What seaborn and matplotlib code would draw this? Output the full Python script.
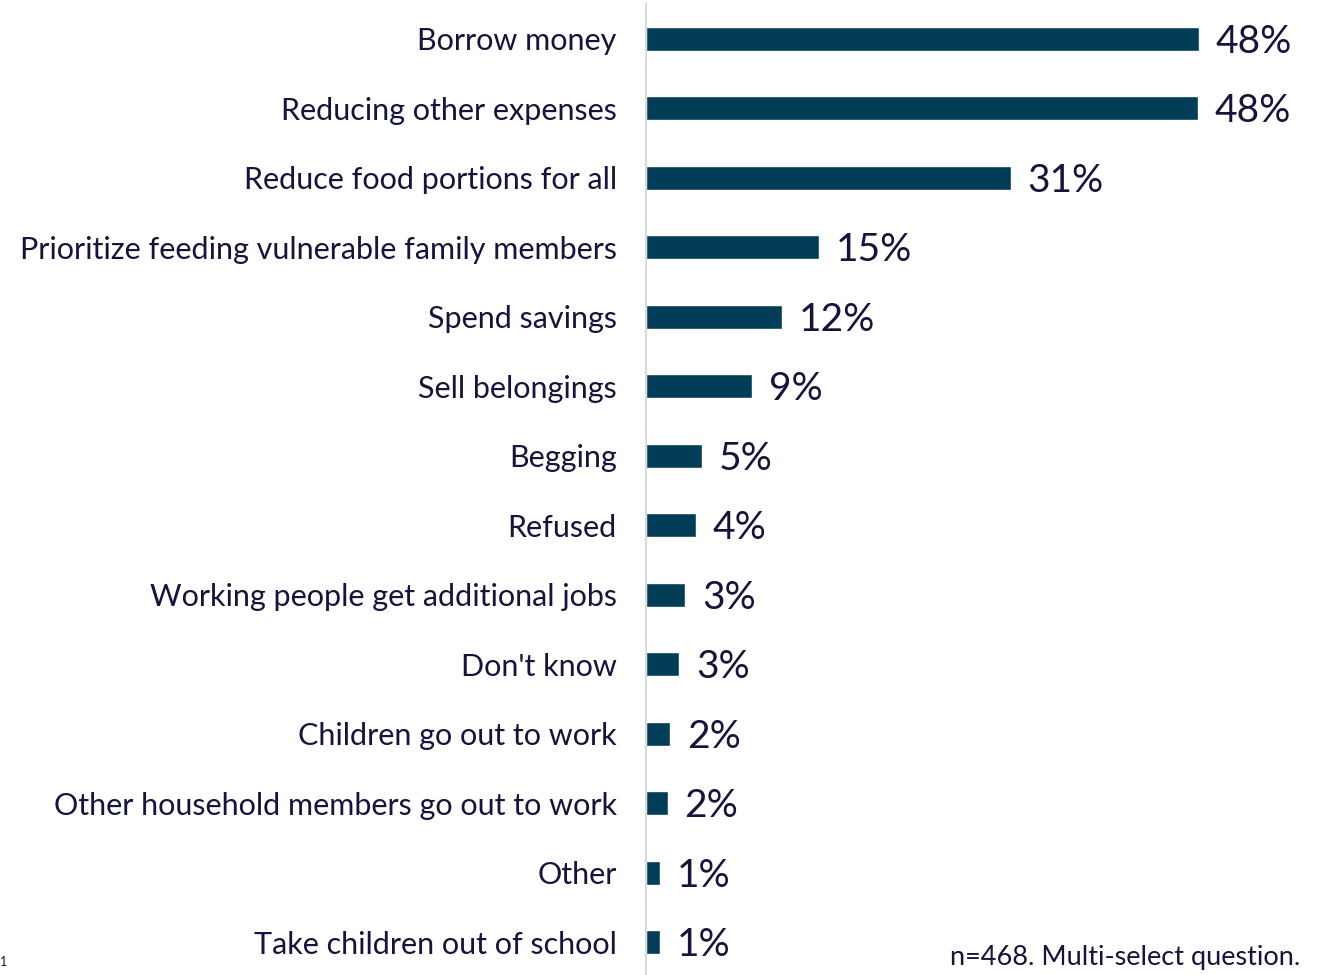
import matplotlib
matplotlib.use("Agg")
import matplotlib.pyplot as plt
import seaborn as sns
import pandas as pd
import numpy as np

# Survey answers (share of respondents, %)
categories = [
    "Borrow money",
    "Reducing other expenses",
    "Reduce food portions for all",
    "Prioritize feeding vulnerable family members",
    "Spend savings",
    "Sell belongings",
    "Begging",
    "Refused",
    "Working people get additional jobs",
    "Don't know",
    "Children go out to work",
    "Other household members go out to work",
    "Other",
    "Take children out of school",
]
values = [48.0, 47.9, 31.7, 15.0, 11.8, 9.2, 4.9, 4.3, 3.4, 2.9, 2.1, 1.9, 1.2, 1.2]
value_labels = ["48%", "48%", "31%", "15%", "12%", "9%", "5%", "4%",
                "3%", "3%", "2%", "2%", "1%", "1%"]
footnote = "n=468. Multi-select question."

df = pd.DataFrame({"category": categories, "value": values})

sns.set_style("white")
plt.rcParams["font.family"] = ["Lato", "DejaVu Sans"]

bar_color = "#023d58"
text_color = "#14143c"
axis_color = "#d9d9d9"

W, H = 1327, 975
fig = plt.figure(figsize=(W / 100, H / 100), dpi=100)
ax = fig.add_axes([646 / W, -2 / H, (1300 - 646) / W, 973 / H])

sns.barplot(data=df, y="category", x="value", color=bar_color,
            width=0.35, orient="h", ax=ax, saturation=1)

ax.set_xlim(0, 56.8)
ax.set_ylim(len(categories) - 0.5, -0.5)
ax.set_xlabel("")
ax.set_ylabel("")
ax.set_xticks([])

for s in ["top", "right", "bottom"]:
    ax.spines[s].set_visible(False)
ax.spines["left"].set_color(axis_color)
ax.spines["left"].set_linewidth(1.5)

ax.set_yticks(np.arange(len(categories)))
ax.set_yticklabels(categories, fontsize=22, color=text_color)
ax.set_yticks(np.arange(len(categories) + 1) - 0.5, minor=True)
ax.tick_params(axis="y", which="major", length=0, pad=21)
ax.tick_params(axis="y", which="minor", length=7.5, width=1.5, color=axis_color)

for i, (v, lab) in enumerate(zip(values, value_labels)):
    ax.annotate(lab, xy=(v, i), xytext=(12, -2), textcoords="offset points",
                ha="left", va="center", fontsize=28, color=text_color)

fig.text(1300 / W, 1 - 957 / H, footnote, ha="right", va="center",
         fontsize=19.5, color=text_color)
fig.text(0.0, 1 - 962 / H, "1", ha="left", va="center",
         fontsize=9, color=text_color)

fig.savefig("out.png", dpi=100)
